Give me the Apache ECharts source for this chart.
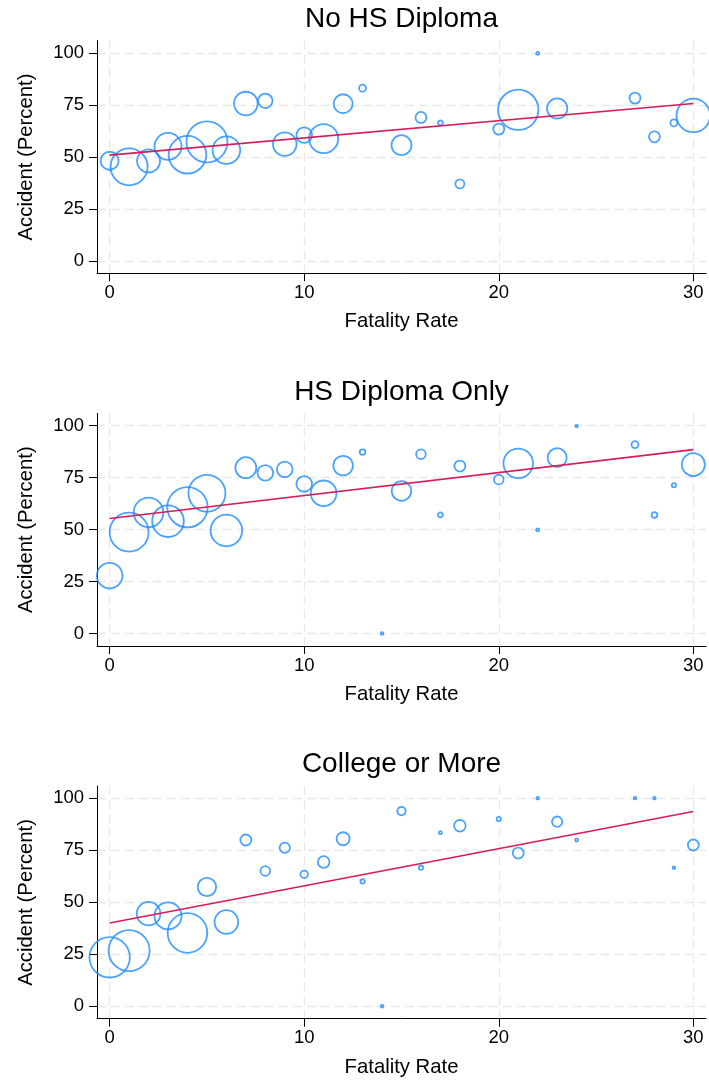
<!DOCTYPE html>
<html>
<head>
<meta charset="utf-8">
<script src="https://cdn.jsdelivr.net/npm/echarts@6/dist/echarts.min.js"></script>
<style>
html,body{margin:0;padding:0;background:#fff;}
#chart{width:709px;height:1081px;}
</style>
</head>
<body>
<div id="chart"></div>
<script>
// ---- Data ----
const panelTitles = ['No HS Diploma', 'HS Diploma Only', 'College or More'];
const xTickValues = [0, 10, 20, 30];
const yTickValues = [0, 25, 50, 75, 100];
const xAxisName = 'Fatality Rate';
const yAxisName = 'Accident (Percent)';

// Panel 1: No HS Diploma
const fatality1 = [0,1,2,3,4,5,6,7,8,9,10,11,12,13,15,16,17,18,20,21,22,23,27,28,29,30];
const accident1 = [48.1,45.2,48,55,51,57.2,53.2,75.6,76.9,56.1,60.4,58.7,75.5,83,55.6,68.9,66.3,37,63.3,72.6,99.7,73.2,78.2,59.6,66.3,69.9];
const weight1   = [90,361,144,196,372,441,204,151,59,151,69,225,100,16,110,36,9,25,36,428,4,114,36,36,16,299];
const fitX1 = [0, 30];
const fitY1 = [50.8, 75.6];

// Panel 2: HS Diploma Only
const fatality2 = [0,1,2,3,4,5,6,7,8,9,10,11,12,13,14,15,16,17,18,20,21,22,23,24,27,28,29,30];
const accident2 = [27.8,48.7,58.2,54,60.7,67.4,49.5,79.7,77.2,78.9,71.9,67.4,80.7,87.2,0,68.5,86.2,57,80.5,74,81.8,49.8,84.5,99.7,90.8,57,71.3,81.2];
const weight2   = [177,400,234,266,428,361,266,121,69,69,69,177,106,11,2,106,28,9,36,28,234,4,100,2,16,11,7,144];
const fitX2 = [0, 30];
const fitY2 = [55.3, 88.4];

// Panel 3: College or More
const fatality3 = [0,1,2,3,4,5,6,7,8,9,10,11,12,13,14,15,16,17,18,20,21,22,23,24,27,28,29,30];
const accident3 = [23.5,26.7,44.5,43.4,35.2,57.3,40.5,79.9,65,76.2,63.4,69.3,80.5,60,0,93.8,66.6,83.4,86.7,90,73.6,100,88.7,79.9,100,100,66.6,77.5];
const weight3   = [428,441,151,196,412,94,151,36,28,32,18,40,49,7,2,22,7,4,40,7,36,2,32,4,2,2,2,36];
const fitX3 = [0, 30];
const fitY3 = [40, 93.6];

// ---- Build ----
const panels = [
  {x: fatality1, y: accident1, w: weight1, fx: fitX1, fy: fitY1},
  {x: fatality2, y: accident2, w: weight2, fx: fitX2, fy: fitY2},
  {x: fatality3, y: accident3, w: weight3, fx: fitX3, fy: fitY3}
];

const FONT = '"Liberation Sans", Arial, Helvetica, sans-serif';
const BLUE = '#1e8cff';
const RED = '#d81b5a';
const GRIDC = '#e8e8e8';
const gridTop0 = 40.7, gridH = 232.6, step = 372.7;
const gridLeft = 97, gridRight = 3;

const grids = [], xAxes = [], yAxes = [], series = [], titles = [];
panels.forEach((p, i) => {
  const top = gridTop0 + i * step;
  grids.push({left: gridLeft, right: gridRight, top: top, height: gridH, containLabel: false});
  titles.push({
    text: panelTitles[i], left: 401.5, top: top - 35.5, textAlign: 'center', padding: 0,
    textStyle: {fontFamily: FONT, fontSize: 28, fontWeight: 'normal', color: '#000'}
  });
  const gridLineStyle = {color: GRIDC, type: [9, 5], width: 1.3};
  xAxes.push({
    type: 'value', gridIndex: i, min: -0.65, max: 30.65,
    name: xAxisName, nameLocation: 'middle', nameGap: 38.5,
    nameTextStyle: {fontFamily: FONT, fontSize: 20.3, color: '#000'},
    axisLine: {show: true, onZero: false, lineStyle: {color: '#000', width: 1}},
    axisTick: {show: true, length: 8, inside: false, customValues: xTickValues, lineStyle: {color: '#000'}},
    axisLabel: {show: true, customValues: xTickValues, margin: 10, fontFamily: FONT, fontSize: 18.5, color: '#000'},
    splitLine: {show: true, lineStyle: gridLineStyle}
  });
  yAxes.push({
    type: 'value', gridIndex: i, min: -6.0, max: 105.8,
    name: yAxisName, nameLocation: 'middle', nameGap: 61, nameRotate: 90,
    nameTextStyle: {fontFamily: FONT, fontSize: 20.3, color: '#000'},
    axisLine: {show: true, onZero: false, lineStyle: {color: '#000', width: 1}},
    axisTick: {show: true, length: 8, inside: false, customValues: yTickValues, lineStyle: {color: '#000'}},
    axisLabel: {show: true, customValues: yTickValues, margin: 13, fontFamily: FONT, fontSize: 18.5, color: '#000'},
    splitLine: {show: true, lineStyle: gridLineStyle}
  });
  series.push({
    type: 'scatter', xAxisIndex: i, yAxisIndex: i, z: 2,
    data: p.x.map((x, k) => [x, p.y[k], p.w[k]]),
    symbol: 'circle',
    symbolSize: v => Math.max(2.6, 2 * Math.sqrt(v[2]) - 1),
    itemStyle: {color: 'rgba(0,0,0,0)', borderColor: BLUE, borderWidth: 1.8},
    emphasis: {disabled: true},
    animation: false
  });
  series.push({
    type: 'line', xAxisIndex: i, yAxisIndex: i, z: 3,
    data: p.fx.map((x, k) => [x, p.fy[k]]),
    showSymbol: false, symbol: 'none',
    lineStyle: {color: RED, width: 1.6},
    emphasis: {disabled: true},
    animation: false
  });
});

const chart = echarts.init(document.getElementById('chart'), null, {renderer: 'canvas'});
chart.setOption({
  backgroundColor: '#fff',
  animation: false,
  title: titles,
  grid: grids,
  xAxis: xAxes,
  yAxis: yAxes,
  series: series
});
</script>
</body>
</html>
